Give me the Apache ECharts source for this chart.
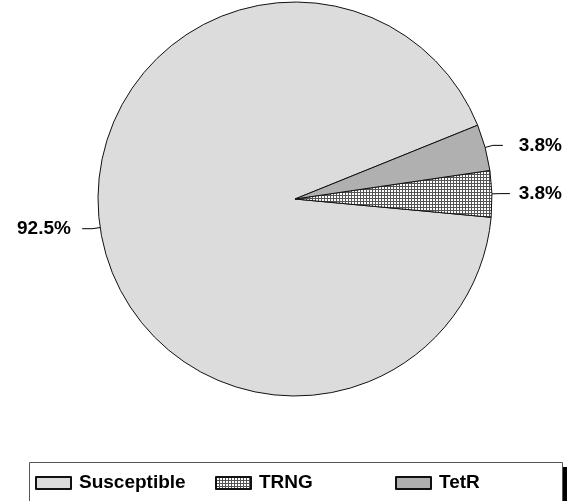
<!DOCTYPE html>
<html>
<head>
<meta charset="utf-8">
<script src="https://cdn.jsdelivr.net/npm/echarts@6/dist/echarts.min.js"></script>
<style>
  html, body { margin: 0; padding: 0; background: #fff; }
  #main { width: 571px; height: 501px; }
</style>
</head>
<body>
<div id="main"></div>
<script>
const categories = ['Susceptible', 'TRNG', 'TetR']
const percents = [92.5, 3.8, 3.8]
const fills = ['#dcdcdc', null, '#b0b0b0']

// checkered fill for TRNG
function gridPattern() {
  const c = document.createElement('canvas')
  c.width = 3
  c.height = 3
  const ctx = c.getContext('2d')
  ctx.fillStyle = '#ffffff'
  ctx.fillRect(0, 0, 3, 3)
  ctx.fillStyle = '#555555'
  ctx.fillRect(0, 0, 3, 1)
  ctx.fillRect(0, 0, 1, 3)
  return c
}

const chart = echarts.init(document.getElementById('main'))
const font = "'Liberation Sans', Arial, sans-serif"
const legendLefts = [35, 215, 395]

// one legend per entry so the items sit on fixed columns like the original
const legends = categories.map(function (name, i) {
  return {
    left: legendLefts[i],
    top: 473,
    padding: 0,
    icon: 'rect',
    itemWidth: 35,
    itemHeight: 12,
    z: 5,
    selectedMode: false,
    textStyle: {
      fontFamily: font,
      fontWeight: 'bold',
      fontSize: 19,
      lineHeight: 20,
      color: '#000',
      padding: [0, 0, 0, 3]
    },
    data: [name]
  }
})

chart.setOption({
  animation: false,
  graphic: [
    { type: 'rect', z: 0, shape: { x: 34, y: 467, width: 533, height: 60 }, style: { fill: '#000' } },
    { type: 'rect', z: 1, shape: { x: 29.5, y: 462.5, width: 533, height: 60 }, style: { fill: '#fff', stroke: '#555', lineWidth: 1 } }
  ],
  legend: legends,
  series: [{
    type: 'pie',
    left: 8,
    right: 0,
    top: 0,
    bottom: 0,
    center: [287, 199],
    radius: 197,
    startAngle: 22,
    clockwise: false,
    avoidLabelOverlap: false,
    itemStyle: {
      borderColor: '#111',
      borderWidth: 1
    },
    label: {
      show: true,
      formatter: function (p) { return p.value.toFixed(1) + '%' },
      fontFamily: font,
      fontWeight: 'bold',
      fontSize: 19,
      color: '#000',
      alignTo: 'edge',
      edgeDistance: 9
    },
    labelLine: {
      show: true,
      length: 8,
      length2: 10,
      lineStyle: { color: '#000', width: 1 }
    },
    emphasis: { disabled: true },
    data: categories.map(function (name, i) {
      return {
        name: name,
        value: percents[i],
        itemStyle: { color: fills[i] || { image: gridPattern(), repeat: 'repeat' } }
      }
    })
  }]
})
</script>
</body>
</html>
